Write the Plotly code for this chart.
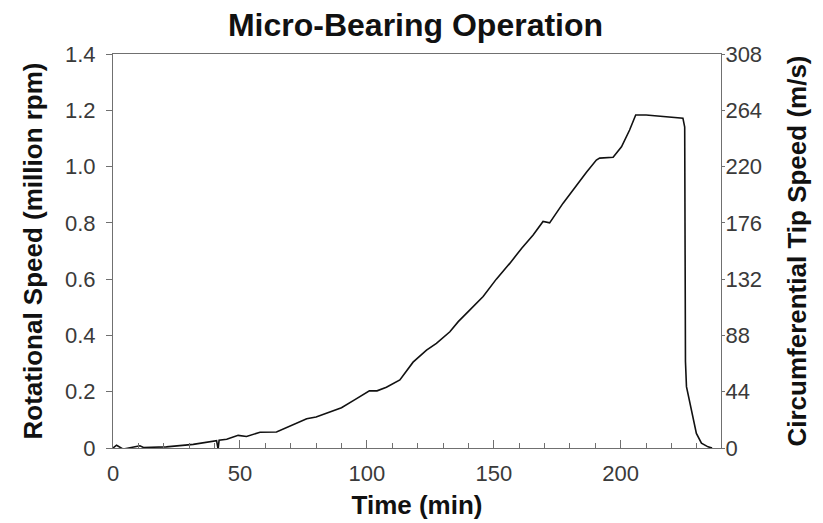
import plotly.graph_objects as go

# Time (min)
time_min = [0, 1.4, 4, 6.7, 10.6, 12, 21, 31.6, 40.8, 41.4, 41.8, 44.8, 49.3, 52.6,
            57.9, 64.4, 71, 76.3, 80, 90, 95.3, 101, 104, 107.7, 113, 118.2, 123.5,
            127.4, 132.7, 136, 140.5, 145.8, 151, 156.3, 161, 165.5, 169.4, 172,
            177.3, 182.6, 186.5, 190.4, 191.7, 197, 200.3, 203.5, 205.9, 210, 218,
            224.5, 225.2, 225.5, 225.9, 228.5, 229.8, 231.8, 234.4, 236]
# Rotational speed (million rpm)
speed_mrpm = [0.0, 0.01, -0.004, 0.0, 0.008, 0.002, 0.004, 0.013, 0.026, -0.004, 0.028,
              0.031, 0.045, 0.041, 0.056, 0.057, 0.082, 0.104, 0.11, 0.143, 0.172, 0.203,
              0.203, 0.216, 0.242, 0.305, 0.348, 0.372, 0.413, 0.449, 0.49, 0.538, 0.6,
              0.656, 0.71, 0.757, 0.805, 0.8, 0.87, 0.935, 0.98, 1.023, 1.03, 1.033, 1.07,
              1.13, 1.183, 1.183, 1.177, 1.172, 1.14, 0.307, 0.218, 0.1, 0.052, 0.017,
              0.004, 0.0]
# Tip speed factor (m/s per million rpm): 308 / 1.4
TIP_FACTOR = 220
tip_speed = [v * TIP_FACTOR for v in speed_mrpm]

x_ticks = [0, 50, 100, 150, 200]
y_ticks = [0, 0.2, 0.4, 0.6, 0.8, 1.0, 1.2, 1.4]
y_ticktext = ["0", "0.2", "0.4", "0.6", "0.8", "1.0", "1.2", "1.4"]
y2_ticks = [0, 44, 88, 132, 176, 220, 264, 308]

FONT = "Liberation Sans, Arial, Helvetica, sans-serif"
AX = "#707070"
TICKC = "#3a3a3a"

fig = go.Figure()
fig.add_trace(go.Scatter(x=time_min, y=speed_mrpm, mode="lines",
                         line=dict(color="#111111", width=1.6),
                         showlegend=False, hoverinfo="x+y"))
fig.add_trace(go.Scatter(x=time_min, y=tip_speed, mode="lines", yaxis="y2",
                         line=dict(color="rgba(0,0,0,0)", width=0),
                         showlegend=False, hoverinfo="skip"))

# page body has an 8px margin, so the figure is 8px smaller and everything shifted
W, H = 815, 515
fig.update_layout(
    width=W, height=H,
    margin=dict(l=105, r=102, t=46, b=75, autoexpand=False),
    paper_bgcolor="white", plot_bgcolor="white",
    font=dict(family=FONT, color=TICKC),
    title=dict(text="Micro-Bearing Operation", x=0.5, xref="container", xanchor="center",
               y=1 - 17 / H, yref="container", yanchor="middle",
               font=dict(family=FONT, size=32, color="#111111", weight="bold")),
    xaxis=dict(range=[0, 239.5], tickvals=x_ticks, ticks="inside", ticklen=8,
               tickcolor=AX, tickwidth=1, automargin=False, ticklabelstandoff=6,
               minor=dict(dtick=10, ticks="inside", ticklen=5, tickcolor=AX),
               showline=True, linecolor=AX, linewidth=1, mirror=True,
               showgrid=False, zeroline=False,
               tickfont=dict(size=22, color=TICKC),
               title=dict(text="Time (min)", standoff=10,
                          font=dict(size=26, color="#111111", weight="bold"))),
    yaxis=dict(range=[0, 1.4], tickvals=y_ticks, ticktext=y_ticktext,
               ticks="outside", ticklen=6, tickcolor=AX, automargin=False,
               ticklabelstandoff=6,
               showline=True, linecolor=AX, linewidth=1,
               showgrid=False, zeroline=False,
               tickfont=dict(size=22, color=TICKC),
               title=dict(text="Rotational Speed (million rpm)", standoff=14,
                          font=dict(size=26, color="#111111", weight="bold"))),
    yaxis2=dict(range=[0, 308], tickvals=y2_ticks, overlaying="y", side="right",
                ticks="outside", ticklen=3, tickcolor=AX, automargin=False,
                ticklabelstandoff=-4,
                showline=True, linecolor=AX, linewidth=1,
                showgrid=False, zeroline=False,
                tickfont=dict(size=22, color=TICKC),
                title=dict(text="Circumferential Tip Speed (m/s)", standoff=26,
                           font=dict(size=26, color="#111111", weight="bold"))),
)

fig.write_html("out.html")
